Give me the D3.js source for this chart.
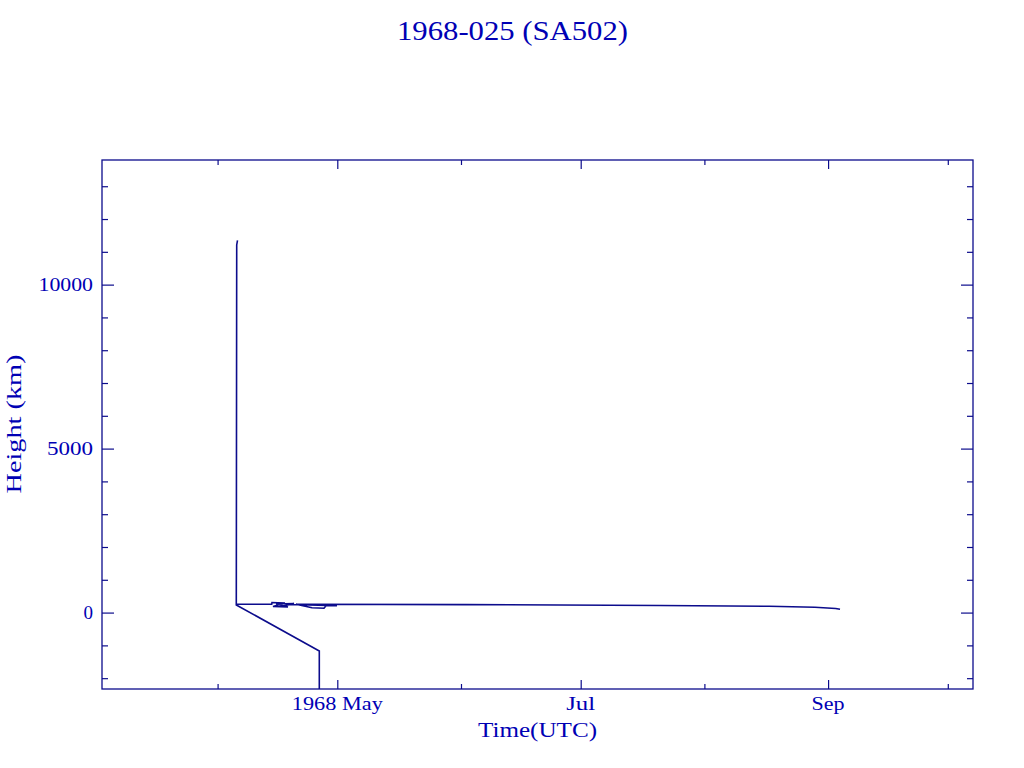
<!DOCTYPE html>
<html>
<head>
<meta charset="utf-8">
<script src="https://cdn.jsdelivr.net/npm/d3@7"></script>
<style>
  html, body { margin: 0; padding: 0; background: #ffffff; }
  svg { display: block; }
  text { font-family: "Liberation Serif", "DejaVu Serif", serif; fill: #0000b4; }
</style>
</head>
<body>
<svg id="chart" width="1024" height="768"></svg>
<script>
// ---- data ----
const titleText = "1968-025 (SA502)";
const xTitle = "Time(UTC)";
const yTitle = "Height (km)";

const times = [
  "1968-04-26T11:45Z", "1968-04-26T11:45Z", "1968-04-05T16:30Z", "1968-04-05T19:00Z",
  "1968-04-05T23:45Z", "1968-04-05T19:00Z", "1968-04-05T16:30Z", "1968-04-14T13:30Z",
  "1968-04-14T15:10Z", "1968-04-17T21:20Z", "1968-04-14T21:10Z", "1968-04-18T15:20Z",
  "1968-04-15T15:20Z", "1968-04-20T03:35Z", "1968-04-17T09:20Z", "1968-04-19T03:35Z",
  "1968-04-30T22:00Z", "1968-04-28T04:00Z", "1968-04-27T16:00Z", "1968-04-24T15:50Z",
  "1968-04-20T15:35Z", "1968-06-02T06:15Z", "1968-07-20T21:10Z", "1968-08-17T04:50Z",
  "1968-08-28T16:50Z", "1968-09-02T21:40Z", "1968-09-03T23:45Z"
];
const heights = [
  -2700, -1170, 232, 11209,
  11346, 11209, 253, 253,
  308, 293, 186, 171,
  262, 277, 201, 247,
  210, 210, 131, 146,
  253, 244, 216, 192,
  162, 125, 101
];

const xDomain = ["1968-03-03T00:45Z", "1968-10-07T07:35Z"];
const yDomain = [-2330, 13800];

const xMajorTicks = ["1968-05-01T00:00Z", "1968-07-01T00:00Z", "1968-09-01T00:00Z"];
const xMajorLabels = ["1968 May", "Jul", "Sep"];
const xMinorTicks = ["1968-04-01T00:00Z", "1968-06-01T00:00Z", "1968-08-01T00:00Z", "1968-10-01T00:00Z"];

const yMajorTicks = [0, 5000, 10000];
const yMajorLabels = ["0", "5000", "10000"];
const yMinorTicks = [-2000, -1000, 1000, 2000, 3000, 4000, 6000, 7000, 8000, 9000,
                     11000, 12000, 13000];

// ---- layout ----
const L = 102, R = 973, T = 160, B = 689;
const lineColor = "#0c0c8c";

const svg = d3.select("#chart");
const x = d3.scaleUtc().domain(xDomain.map(d => new Date(d))).range([L, R]);
const y = d3.scaleLinear().domain(yDomain).range([B, T]);

// clip for data
svg.append("clipPath").attr("id", "plotclip")
  .append("rect").attr("x", L).attr("y", T).attr("width", R - L).attr("height", B - T);

// data line
const pts = times.map((t, i) => ({ t: new Date(t), h: heights[i] }));
const line = d3.line().x(d => x(d.t)).y(d => y(d.h));
svg.append("path")
  .datum(pts)
  .attr("clip-path", "url(#plotclip)")
  .attr("d", line)
  .attr("fill", "none")
  .attr("stroke", lineColor)
  .attr("stroke-width", 1.6)
  .attr("stroke-linejoin", "miter");

// axes (ticks only)
function styleAxis(g) {
  g.select(".domain").remove();
  g.selectAll("line").attr("stroke", lineColor).attr("stroke-width", 1.2);
  g.selectAll("text").remove();
}
const xMaj = xMajorTicks.map(d => new Date(d));
const xMin = xMinorTicks.map(d => new Date(d));

svg.append("g").attr("transform", `translate(0,${B})`)
  .call(d3.axisBottom(x).tickValues(xMaj).tickSize(-9).tickSizeOuter(0).tickFormat(""))
  .call(styleAxis);
svg.append("g").attr("transform", `translate(0,${B})`)
  .call(d3.axisBottom(x).tickValues(xMin).tickSize(-5).tickSizeOuter(0).tickFormat(""))
  .call(styleAxis);
svg.append("g").attr("transform", `translate(0,${T})`)
  .call(d3.axisTop(x).tickValues(xMaj).tickSize(-9).tickSizeOuter(0).tickFormat(""))
  .call(styleAxis);
svg.append("g").attr("transform", `translate(0,${T})`)
  .call(d3.axisTop(x).tickValues(xMin).tickSize(-5).tickSizeOuter(0).tickFormat(""))
  .call(styleAxis);

svg.append("g").attr("transform", `translate(${L},0)`)
  .call(d3.axisLeft(y).tickValues(yMajorTicks).tickSize(-12).tickSizeOuter(0).tickFormat(""))
  .call(styleAxis);
svg.append("g").attr("transform", `translate(${L},0)`)
  .call(d3.axisLeft(y).tickValues(yMinorTicks).tickSize(-6).tickSizeOuter(0).tickFormat(""))
  .call(styleAxis);
svg.append("g").attr("transform", `translate(${R},0)`)
  .call(d3.axisRight(y).tickValues(yMajorTicks).tickSize(-12).tickSizeOuter(0).tickFormat(""))
  .call(styleAxis);
svg.append("g").attr("transform", `translate(${R},0)`)
  .call(d3.axisRight(y).tickValues(yMinorTicks).tickSize(-6).tickSizeOuter(0).tickFormat(""))
  .call(styleAxis);

// frame
svg.append("rect")
  .attr("x", L).attr("y", T).attr("width", R - L).attr("height", B - T)
  .attr("fill", "none").attr("stroke", lineColor).attr("stroke-width", 1.3);

// x tick labels
const xLabelWidths = [91, 29, 33];
svg.append("g").selectAll("text")
  .data(xMaj)
  .join("text")
  .attr("x", d => x(d))
  .attr("y", 709.5)
  .attr("text-anchor", "middle")
  .attr("font-size", 19)
  .attr("textLength", (d, i) => xLabelWidths[i])
  .attr("lengthAdjust", "spacingAndGlyphs")
  .text((d, i) => xMajorLabels[i]);

// y tick labels
const yLabelWidths = [9.5, 46, 54.5];
svg.append("g").selectAll("text")
  .data(yMajorTicks)
  .join("text")
  .attr("x", 93)
  .attr("y", d => y(d) + 6.3)
  .attr("text-anchor", "end")
  .attr("font-size", 19)
  .attr("textLength", (d, i) => yLabelWidths[i])
  .attr("lengthAdjust", "spacingAndGlyphs")
  .text((d, i) => yMajorLabels[i]);

// title
svg.append("text")
  .attr("x", 512.5).attr("y", 39.5)
  .attr("text-anchor", "middle")
  .attr("font-size", 28)
  .attr("textLength", 231)
  .attr("lengthAdjust", "spacingAndGlyphs")
  .text(titleText);

// x title
svg.append("text")
  .attr("x", (L + R) / 2).attr("y", 737)
  .attr("text-anchor", "middle")
  .attr("font-size", 21)
  .attr("textLength", 119)
  .attr("lengthAdjust", "spacingAndGlyphs")
  .text(xTitle);

// y title
svg.append("text")
  .attr("transform", "translate(21,424) rotate(-90)")
  .attr("text-anchor", "middle")
  .attr("font-size", 21)
  .attr("textLength", 139)
  .attr("lengthAdjust", "spacingAndGlyphs")
  .text(yTitle);
</script>
</body>
</html>
